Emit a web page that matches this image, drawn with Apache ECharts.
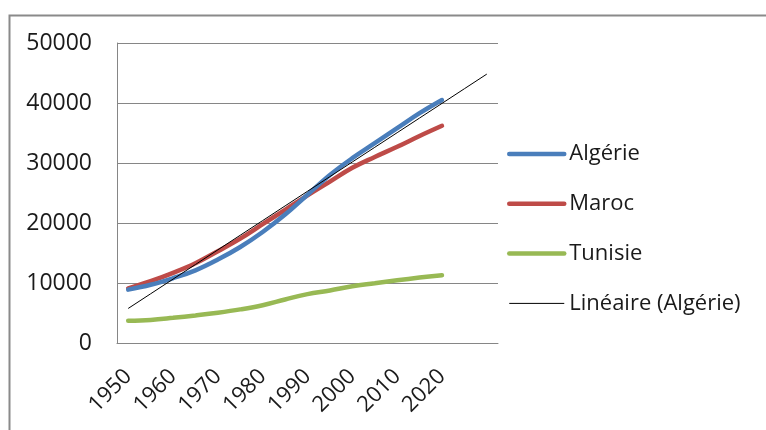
<!DOCTYPE html>
<html>
<head>
<meta charset="utf-8">
<script src="https://cdn.jsdelivr.net/npm/echarts@6/dist/echarts.min.js"></script>
<style>
html,body{margin:0;padding:0;background:#fff;}
#c{width:766px;height:430px;}
</style>
</head>
<body>
<div id="c"></div>
<script>
// Categories (5-year steps; 2025 and 2030 exist only for the trendline forecast)
var years = ['1950','1955','1960','1965','1970','1975','1980','1985','1990','1995','2000','2005','2010','2015','2020','2025','2030'];
var labelYears = ['1950','1960','1970','1980','1990','2000','2010','2020'];
var algerie = [8900, 9700, 10800, 12100, 13900, 16000, 18500, 21400, 24700, 28000, 30800, 33300, 35800, 38300, 40500];
var maroc   = [9100, 10300, 11700, 13300, 15300, 17400, 19800, 22200, 24600, 26900, 29200, 31000, 32700, 34500, 36200];
var tunisie = [3700, 3850, 4200, 4600, 5050, 5600, 6300, 7250, 8150, 8750, 9450, 9950, 10450, 10900, 11300];
var yTicks = [0, 10000, 20000, 30000, 40000, 50000];

// Linear trendline (least squares on Algérie), forecast over all categories
function linearTrend(vals, n) {
  var m = vals.length, sx = 0, sy = 0, sxx = 0, sxy = 0;
  for (var i = 0; i < m; i++) { sx += i; sy += vals[i]; sxx += i * i; sxy += i * vals[i]; }
  var b = (m * sxy - sx * sy) / (m * sxx - sx * sx);
  var a = (sy - b * sx) / m;
  var out = [];
  for (var j = 0; j < n; j++) out.push(a + b * j);
  return out;
}
var trend = linearTrend(algerie, years.length);

var chart = echarts.init(document.getElementById('c'), null, {renderer: 'canvas'});
var FONT = '"Open Sans", "Noto Sans", sans-serif';
chart.setOption({
  animation: false,
  backgroundColor: '#ffffff',
  graphic: [{
    type: 'rect', left: 7, top: 13,
    shape: {width: 820, height: 500},
    style: {fill: 'none', stroke: '#8a8a8a', lineWidth: 2}, silent: true
  }],
  grid: {left: 117, right: 268, top: 43, bottom: 87, containLabel: false},
  xAxis: {
    type: 'category',
    data: years,
    boundaryGap: true,
    axisLine: {show: true, lineStyle: {color: '#868686', width: 1}},
    axisTick: {show: false},
    splitLine: {show: false},
    axisLabel: {
      interval: 0,
      rotate: 45,
      margin: 30,
      color: '#1a1a1a',
      fontFamily: FONT,
      fontSize: 22,
      formatter: function (v) { return labelYears.indexOf(v) >= 0 ? v : ''; }
    }
  },
  yAxis: {
    type: 'value',
    min: yTicks[0], max: yTicks[yTicks.length - 1], interval: 10000,
    axisLine: {show: true, lineStyle: {color: '#868686', width: 1}},
    axisTick: {show: false},
    splitLine: {show: true, lineStyle: {color: '#868686', width: 1}},
    axisLabel: {margin: 25, color: '#1a1a1a', fontFamily: FONT, fontSize: 23,
      formatter: function (v) { return String(v); }}
  },
  legend: {
    orient: 'vertical',
    left: 502, top: 138,
    itemWidth: 55, itemHeight: 20, itemGap: 27.8,
    itemStyle: {opacity: 0},
    textStyle: {fontFamily: FONT, fontSize: 22, color: '#1a1a1a', padding: [0, 0, 0, 0]},
    data: [
      {name: 'Algérie', lineStyle: {width: 4.5, color: '#4a7ebb'}},
      {name: 'Maroc', lineStyle: {width: 4.5, color: '#be4b48'}},
      {name: 'Tunisie', lineStyle: {width: 4.5, color: '#98b954'}},
      {name: 'Linéaire (Algérie)', lineStyle: {width: 1, color: '#000000'}}
    ]
  },
  series: [
    {name: 'Algérie', type: 'line', data: algerie, smooth: 0.4, symbol: 'none',
     lineStyle: {color: '#4a7ebb', width: 4.5, cap: 'round'}, itemStyle: {color: '#4a7ebb'}, z: 3},
    {name: 'Maroc', type: 'line', data: maroc, smooth: 0.4, symbol: 'none',
     lineStyle: {color: '#be4b48', width: 4.5, cap: 'round'}, itemStyle: {color: '#be4b48'}, z: 2},
    {name: 'Tunisie', type: 'line', data: tunisie, smooth: 0.4, symbol: 'none',
     lineStyle: {color: '#98b954', width: 4.5, cap: 'round'}, itemStyle: {color: '#98b954'}, z: 2},
    {name: 'Linéaire (Algérie)', type: 'line', data: trend, smooth: false, symbol: 'none',
     lineStyle: {color: '#000000', width: 1}, itemStyle: {color: '#000000'}, z: 4}
  ]
});
</script>
</body>
</html>
